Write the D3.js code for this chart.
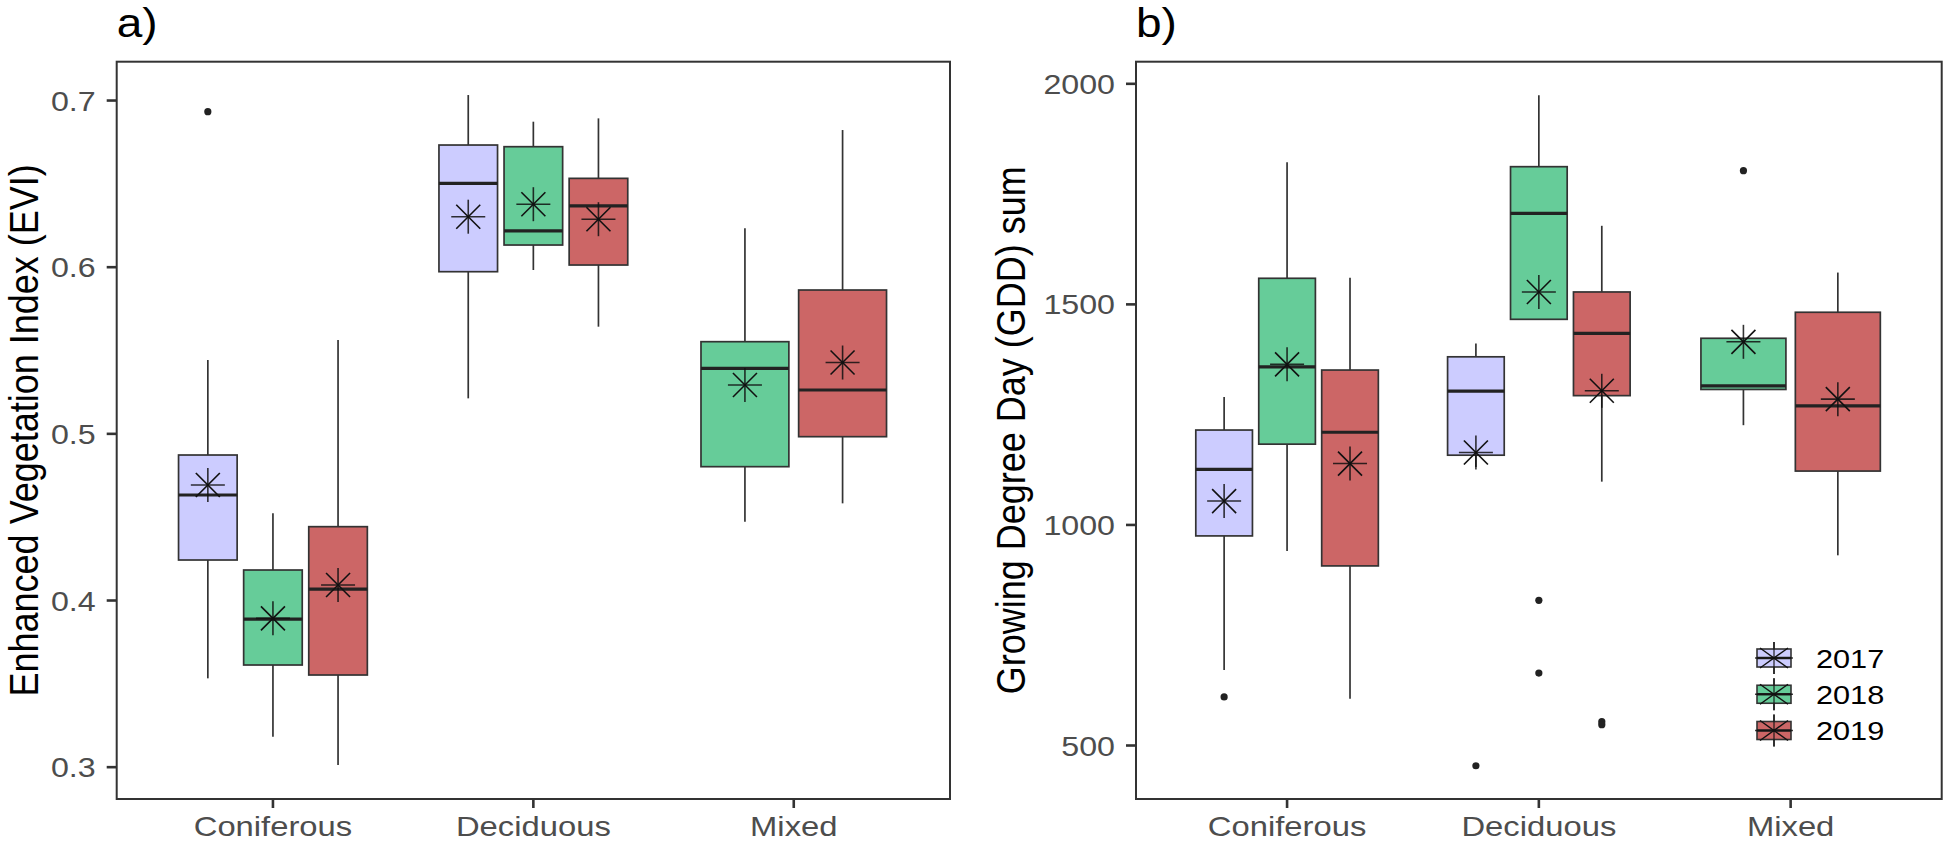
<!DOCTYPE html>
<html><head><meta charset="utf-8">
<script src="https://cdn.jsdelivr.net/npm/d3@7"></script>
<style>
body{margin:0;background:#fff}
svg{display:block}
text{font-family:"Liberation Sans",Arial,Helvetica,sans-serif}
</style>
</head><body>
<svg id="chart" width="1946" height="841"></svg>
<script>
// ---------------- data ----------------
const categories = ["Coniferous", "Deciduous", "Mixed"];
const years = ["2017", "2018", "2019"];
const yearFill = ["#CCCCFF", "#66CC99", "#CC6666"];

const eviTicks = [0.3, 0.4, 0.5, 0.6, 0.7];
const eviBoxes = [
  {cat:"Coniferous", year:"2017", lo:0.353, q1:0.424, med:0.463,  q3:0.487, hi:0.544, mean:0.469},
  {cat:"Coniferous", year:"2018", lo:0.318, q1:0.361, med:0.3885, q3:0.418, hi:0.452, mean:0.389},
  {cat:"Coniferous", year:"2019", lo:0.301, q1:0.355, med:0.4065, q3:0.444, hi:0.556, mean:0.409},
  {cat:"Deciduous",  year:"2017", lo:0.521, q1:0.597, med:0.650,  q3:0.673, hi:0.703, mean:0.630},
  {cat:"Deciduous",  year:"2018", lo:0.598, q1:0.613, med:0.6215, q3:0.672, hi:0.687, mean:0.6375},
  {cat:"Deciduous",  year:"2019", lo:0.564, q1:0.601, med:0.6365, q3:0.653, hi:0.689, mean:0.6285},
  {cat:"Mixed",      year:"2018", lo:0.447, q1:0.480, med:0.539,  q3:0.555, hi:0.623, mean:0.529},
  {cat:"Mixed",      year:"2019", lo:0.458, q1:0.498, med:0.526,  q3:0.586, hi:0.682, mean:0.5425}
];
const eviOutliers = [
  {cat:"Coniferous", year:"2017", value:0.693}
];

const gddTicks = [500, 1000, 1500, 2000];
const gddBoxes = [
  {cat:"Coniferous", year:"2017", lo:670,  q1:974,  med:1125, q3:1214, hi:1289, mean:1053},
  {cat:"Coniferous", year:"2018", lo:940,  q1:1182, med:1357, q3:1558, hi:1821, mean:1363},
  {cat:"Coniferous", year:"2019", lo:605,  q1:906,  med:1209, q3:1350, hi:1559, mean:1138},
  {cat:"Deciduous",  year:"2017", lo:1130, q1:1157, med:1302, q3:1380, hi:1410, mean:1163},
  {cat:"Deciduous",  year:"2018", lo:1465, q1:1465, med:1705, q3:1811, hi:1973, mean:1527},
  {cat:"Deciduous",  year:"2019", lo:1097, q1:1292, med:1433, q3:1527, hi:1677, mean:1303},
  {cat:"Mixed",      year:"2018", lo:1225, q1:1306, med:1314, q3:1422, hi:1422, mean:1414},
  {cat:"Mixed",      year:"2019", lo:930,  q1:1121, med:1269, q3:1481, hi:1571, mean:1284}
];
const gddOutliers = [
  {cat:"Coniferous", year:"2017", value:609},
  {cat:"Deciduous",  year:"2017", value:453},
  {cat:"Deciduous",  year:"2018", value:828},
  {cat:"Deciduous",  year:"2018", value:663},
  {cat:"Deciduous",  year:"2019", value:553},
  {cat:"Deciduous",  year:"2019", value:546},
  {cat:"Mixed",      year:"2018", value:1802}
];

// ---------------- drawing ----------------
const svg = d3.select("#chart");
const SX = 1.15;           // horizontal stretch of the original raster text
const color = d3.scaleOrdinal().domain(years).range(yearFill);
const LINE = "#333333";

function asterisk(g, cx, cy, pl, xd, w) {
  const a = g.append("g").attr("transform", `translate(${cx},${cy})`)
    .attr("stroke", "#111").attr("stroke-width", w).attr("fill", "none");
  a.append("line").attr("x1", -pl).attr("x2", pl).attr("y1", 0).attr("y2", 0).attr("stroke-opacity", 0.85);
  a.append("line").attr("x1", 0).attr("x2", 0).attr("y1", -pl).attr("y2", pl).attr("stroke-opacity", 0.85);
  a.append("line").attr("x1", -xd).attr("x2", xd).attr("y1", -xd).attr("y2", xd);
  a.append("line").attr("x1", -xd).attr("x2", xd).attr("y1", xd).attr("y2", -xd);
}

function drawPanel(p) {
  const x = d3.scaleBand().domain(categories).range([p.left, p.right])
    .paddingInner(0).paddingOuter(0.1);
  const y = d3.scaleLinear().domain(p.domain).range([p.bottom, p.top]);
  const step = x.step();
  const g = svg.append("g");

  function pos(cat, yr) {
    const present = years.filter(v => p.boxes.some(b => b.cat === cat && b.year === v));
    const n = present.length, j = present.indexOf(yr);
    const slot = 0.75 * step / n;
    return {cx: x(cat) + step / 2 - 0.375 * step + (j + 0.5) * slot, w: 0.9 * slot};
  }

  // whiskers
  p.boxes.forEach(b => {
    const q = pos(b.cat, b.year);
    g.append("line").attr("x1", q.cx).attr("x2", q.cx).attr("y1", y(b.hi)).attr("y2", y(b.q3))
      .attr("stroke", LINE).attr("stroke-width", 1.7);
    g.append("line").attr("x1", q.cx).attr("x2", q.cx).attr("y1", y(b.q1)).attr("y2", y(b.lo))
      .attr("stroke", LINE).attr("stroke-width", 1.7);
  });
  // boxes
  p.boxes.forEach(b => {
    const q = pos(b.cat, b.year);
    g.append("rect").attr("x", q.cx - q.w / 2).attr("width", q.w)
      .attr("y", y(b.q3)).attr("height", y(b.q1) - y(b.q3))
      .attr("fill", color(b.year)).attr("stroke", LINE).attr("stroke-width", 1.7);
    g.append("line").attr("x1", q.cx - q.w / 2).attr("x2", q.cx + q.w / 2)
      .attr("y1", y(b.med)).attr("y2", y(b.med))
      .attr("stroke", "#222").attr("stroke-width", 3.2);
  });
  // outliers
  p.outliers.forEach(o => {
    const q = pos(o.cat, o.year);
    g.append("circle").attr("cx", q.cx).attr("cy", y(o.value)).attr("r", 3.6).attr("fill", "#222");
  });
  // means
  p.boxes.forEach(b => {
    const q = pos(b.cat, b.year);
    asterisk(g, q.cx, y(b.mean), 17, 12, 1.6);
  });

  // panel border
  g.append("rect").attr("x", p.left).attr("y", p.top)
    .attr("width", p.right - p.left).attr("height", p.bottom - p.top)
    .attr("fill", "none").attr("stroke", LINE).attr("stroke-width", 2);

  // y axis
  const ya = g.append("g").attr("transform", `translate(${p.left},0)`)
    .call(d3.axisLeft(y).tickValues(p.ticks).tickFormat(p.fmt).tickSize(10));
  ya.select(".domain").remove();
  ya.selectAll(".tick line").attr("stroke", LINE).attr("stroke-width", 2.6);
  ya.selectAll(".tick text").attr("font-size", 28).attr("fill", "#4D4D4D")
    .attr("x", -21 / SX).attr("dy", "0.358em").attr("text-anchor", "end")
    .attr("transform", `scale(${SX},1)`);

  // x axis
  const xa = g.append("g").attr("transform", `translate(0,${p.bottom})`)
    .call(d3.axisBottom(x).tickSize(9));
  xa.select(".domain").remove();
  xa.selectAll(".tick line").attr("stroke", LINE).attr("stroke-width", 2.6);
  xa.selectAll(".tick text").attr("font-size", 28.5).attr("fill", "#4D4D4D")
    .attr("y", 37).attr("dy", null).attr("transform", `scale(${SX},1)`);

  // y title
  g.append("g").attr("transform", `translate(${p.titleX},${(p.top + p.bottom) / 2}) scale(${SX},1) rotate(-90)`)
    .append("text").attr("text-anchor", "middle").attr("font-size", 36).attr("fill", "#000")
    .text(p.title);

  // panel tag
  g.append("g").attr("transform", `translate(${p.left},37) scale(${SX},1)`)
    .append("text").attr("font-size", 40).attr("fill", "#000").text(p.tag);

  return {g, x, y};
}

drawPanel({
  left: 116.7, right: 950, top: 61.7, bottom: 799,
  domain: [0.2806, 0.723], ticks: eviTicks, fmt: d3.format(".1f"),
  boxes: eviBoxes, outliers: eviOutliers,
  title: "Enhanced Vegetation Index (EVI)", titleX: 38, tag: "a)"
});

drawPanel({
  left: 1136, right: 1941.7, top: 61.7, bottom: 799,
  domain: [377.6, 2049], ticks: gddTicks, fmt: d3.format("d"),
  boxes: gddBoxes, outliers: gddOutliers,
  title: "Growing Degree Day (GDD) sum", titleX: 1025, tag: "b)"
});

// legend
const lg = svg.append("g");
const legendY = d3.scalePoint().domain(years).range([658, 730.5]);
years.forEach(yr => {
  const cx = 1774, cy = legendY(yr);
  lg.append("line").attr("x1", cx).attr("x2", cx).attr("y1", cy - 16).attr("y2", cy + 16)
    .attr("stroke", LINE).attr("stroke-width", 1.6);
  lg.append("rect").attr("x", cx - 17).attr("y", cy - 9).attr("width", 34).attr("height", 18)
    .attr("fill", color(yr)).attr("stroke", LINE).attr("stroke-width", 1.6);
  lg.append("line").attr("x1", cx - 17).attr("x2", cx + 17).attr("y1", cy).attr("y2", cy)
    .attr("stroke", "#222").attr("stroke-width", 2.4);
  const a = lg.append("g").attr("stroke", "#111").attr("stroke-width", 1.4);
  a.append("line").attr("x1", cx - 19).attr("x2", cx + 19).attr("y1", cy).attr("y2", cy).attr("stroke-opacity", 0.8);
  a.append("line").attr("x1", cx).attr("x2", cx).attr("y1", cy - 16).attr("y2", cy + 16).attr("stroke-opacity", 0.8);
  a.append("line").attr("x1", cx - 14).attr("x2", cx + 14).attr("y1", cy - 10).attr("y2", cy + 10);
  a.append("line").attr("x1", cx - 14).attr("x2", cx + 14).attr("y1", cy + 10).attr("y2", cy - 10);
  lg.append("g").attr("transform", `translate(1816,${cy + 9.5}) scale(1.18,1)`)
    .append("text").attr("font-size", 26).attr("fill", "#000").text(yr);
});
</script>
</body></html>
